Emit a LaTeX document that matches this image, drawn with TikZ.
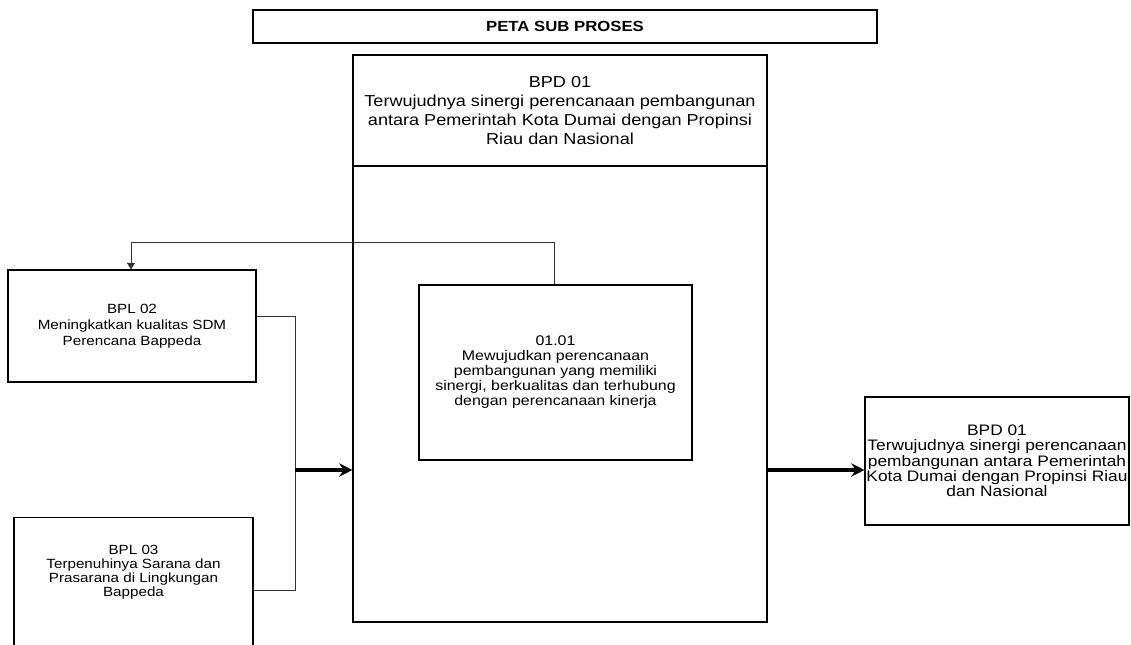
\documentclass[tikz,border=0pt]{standalone}
\usepackage{fontspec}
\setmainfont{Liberation Sans}
\newfontfamily\widesans[FakeStretch=1.14]{Liberation Sans}
\usepackage{tikz}
\usetikzlibrary{positioning}
\usetikzlibrary{arrows.meta,calc}
\tikzstyle{box} = [rectangle, draw=black, line width=0.8pt, align=center, inner sep=0pt]
\tikzstyle{line} = [draw=black!80, line width=0.6pt]
\tikzstyle{arrow} = [line width=2.8pt,->,>={Stealth[length=10pt,width=10pt,inset=3.5pt]}]

\begin{document}
\begin{tikzpicture}[x=0.75pt,y=-0.75pt]
\clip (0,0) rectangle (1131,645);
% title and main process
\node (title) [box, minimum width=468pt, minimum height=24.75pt, font=\widesans\bfseries\fontsize{11}{13}\selectfont] at (565,26.5) {PETA SUB PROSES};
\node (main) [box, minimum width=310.5pt, minimum height=425.25pt] at (560,338.5) {};
\node (hdr) [box, minimum width=310.5pt, minimum height=83.25pt, font=\widesans\fontsize{11.9}{14.25}\selectfont] at (560,110.5) {BPD 01\\Terwujudnya sinergi perencanaan pembangunan\\antara Pemerintah Kota Dumai dengan Propinsi\\Riau dan Nasional};
\node (sub) [box, minimum width=204.75pt, minimum height=131.25pt, font=\widesans\fontsize{10.5}{11.25}\selectfont] at (555.5,372.5) {01.01\\Mewujudkan perencanaan\\pembangunan yang memiliki\\sinergi, berkualitas dan terhubung\\dengan perencanaan kinerja};
% inputs
\node (bpl2) [box, minimum width=186pt, minimum height=84pt, font=\widesans\fontsize{10}{12}\selectfont] at (132,326) {BPL 02\\Meningkatkan kualitas SDM\\Perencana Bappeda};
\node (bpl3) [box, minimum width=179.25pt, minimum height=105pt, anchor=north] at (133.5,517) {};
\node (bpl3txt) [align=center, inner sep=0pt, font=\widesans\fontsize{10}{10.5}\selectfont] at (133.5,572) {BPL 03\\Terpenuhinya Sarana dan\\Prasarana di Lingkungan\\Bappeda};
% output
\node (out) [box, minimum width=198pt, minimum height=96pt, font=\widesans\fontsize{11.4}{11.5}\selectfont] at (997,461) {BPD 01\\Terwujudnya sinergi perencanaan\\pembangunan antara Pemerintah\\Kota Dumai dengan Propinsi Riau\\dan Nasional};
% connectors
\coordinate (jn) at (295,470);
\coordinate (fbr) at (554,242);
\coordinate (fbl) at (131,242);
\draw [line] ([yshift=7.5pt]bpl2.east) -| (jn);
\draw [line] (bpl3.east |- 0,590) -| (jn);
\draw [arrow] (jn) -- (main.west |- jn);
\draw [arrow] (main.east |- jn) -- (out.west |- jn);
\draw [line, -{Triangle[length=5pt,width=6pt]}] (fbr |- sub.north) -- (fbr) -- (fbl) -- (fbl |- bpl2.north);
\end{tikzpicture}
\end{document}
